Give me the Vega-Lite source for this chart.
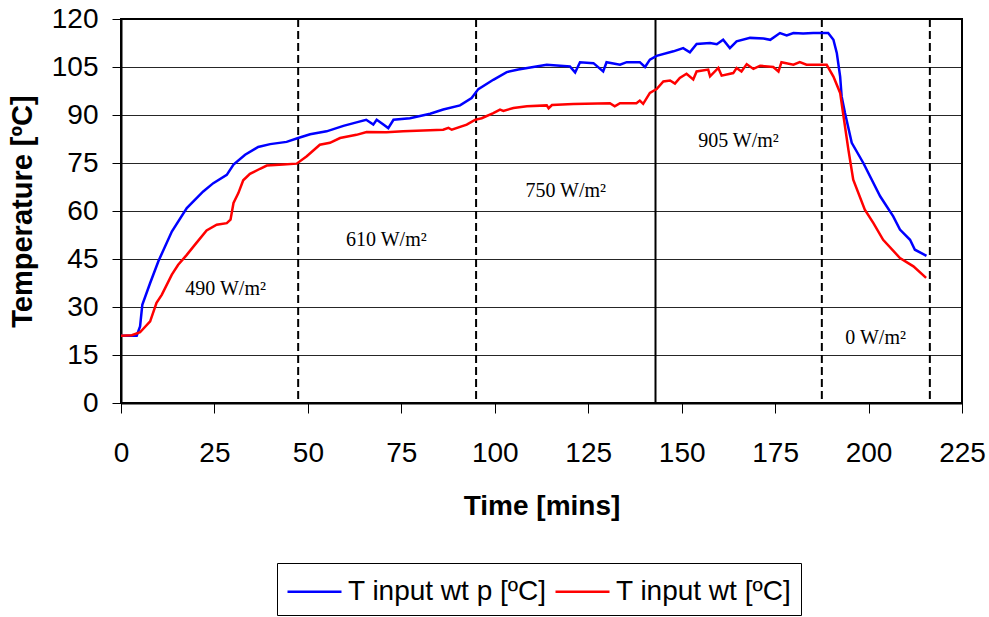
{
  "$schema": "https://vega.github.io/schema/vega-lite/v6.json",
  "width": 841,
  "height": 384,
  "autosize": {"type": "none"},
  "padding": {"left": 121, "top": 19, "right": 27, "bottom": 214},
  "background": "white",
  "config": {
    "view": {"stroke": "black", "strokeWidth": 2},
    "font": "Liberation Sans"
  },
  "datasets": {
    "lines": [
      {"s": "T input wt p [ºC]", "t": 0, "T": 21}, {"s": "T input wt p [ºC]", "t": 4.2, "T": 21}, {"s": "T input wt p [ºC]", "t": 5.1, "T": 23.9}, {"s": "T input wt p [ºC]", "t": 5.7, "T": 30.7}, {"s": "T input wt p [ºC]", "t": 7.8, "T": 37.5}, {"s": "T input wt p [ºC]", "t": 10, "T": 44.3}, {"s": "T input wt p [ºC]", "t": 13.6, "T": 53.6}, {"s": "T input wt p [ºC]", "t": 17.6, "T": 60.9}, {"s": "T input wt p [ºC]", "t": 22, "T": 66.1}, {"s": "T input wt p [ºC]", "t": 24.7, "T": 68.7}, {"s": "T input wt p [ºC]", "t": 28.3, "T": 71.3}, {"s": "T input wt p [ºC]", "t": 30.1, "T": 74.5}, {"s": "T input wt p [ºC]", "t": 33.2, "T": 77.6}, {"s": "T input wt p [ºC]", "t": 36.7, "T": 80}, {"s": "T input wt p [ºC]", "t": 39.9, "T": 80.9}, {"s": "T input wt p [ºC]", "t": 44.3, "T": 81.6}, {"s": "T input wt p [ºC]", "t": 47.4, "T": 82.8}, {"s": "T input wt p [ºC]", "t": 50.6, "T": 84}, {"s": "T input wt p [ºC]", "t": 55, "T": 84.9}, {"s": "T input wt p [ºC]", "t": 59.5, "T": 86.6}, {"s": "T input wt p [ºC]", "t": 63, "T": 87.7}, {"s": "T input wt p [ºC]", "t": 65.6, "T": 88.5}, {"s": "T input wt p [ºC]", "t": 67.5, "T": 87}, {"s": "T input wt p [ºC]", "t": 68.4, "T": 88.5}, {"s": "T input wt p [ºC]", "t": 70.2, "T": 87}, {"s": "T input wt p [ºC]", "t": 71.5, "T": 85.9}, {"s": "T input wt p [ºC]", "t": 72.9, "T": 88.5}, {"s": "T input wt p [ºC]", "t": 77.3, "T": 89}, {"s": "T input wt p [ºC]", "t": 82.7, "T": 90.4}, {"s": "T input wt p [ºC]", "t": 86.2, "T": 91.7}, {"s": "T input wt p [ºC]", "t": 90.7, "T": 93}, {"s": "T input wt p [ºC]", "t": 93.8, "T": 95.3}, {"s": "T input wt p [ºC]", "t": 95.6, "T": 98.1}, {"s": "T input wt p [ºC]", "t": 99.6, "T": 101}, {"s": "T input wt p [ºC]", "t": 103.2, "T": 103.4}, {"s": "T input wt p [ºC]", "t": 106.3, "T": 104.2}, {"s": "T input wt p [ºC]", "t": 110.3, "T": 105}, {"s": "T input wt p [ºC]", "t": 113.9, "T": 105.7}, {"s": "T input wt p [ºC]", "t": 117.5, "T": 105.4}, {"s": "T input wt p [ºC]", "t": 120.1, "T": 105.2}, {"s": "T input wt p [ºC]", "t": 121.5, "T": 103.3}, {"s": "T input wt p [ºC]", "t": 122.8, "T": 106.5}, {"s": "T input wt p [ºC]", "t": 126.4, "T": 106.2}, {"s": "T input wt p [ºC]", "t": 129, "T": 103.6}, {"s": "T input wt p [ºC]", "t": 129.9, "T": 106.5}, {"s": "T input wt p [ºC]", "t": 133.5, "T": 105.7}, {"s": "T input wt p [ºC]", "t": 135.3, "T": 106.5}, {"s": "T input wt p [ºC]", "t": 138.8, "T": 106.5}, {"s": "T input wt p [ºC]", "t": 140.2, "T": 105}, {"s": "T input wt p [ºC]", "t": 141.5, "T": 107.3}, {"s": "T input wt p [ºC]", "t": 143.3, "T": 108.5}, {"s": "T input wt p [ºC]", "t": 147.8, "T": 109.9}, {"s": "T input wt p [ºC]", "t": 150.4, "T": 110.9}, {"s": "T input wt p [ºC]", "t": 152.2, "T": 109.6}, {"s": "T input wt p [ºC]", "t": 154, "T": 112.2}, {"s": "T input wt p [ºC]", "t": 157.6, "T": 112.5}, {"s": "T input wt p [ºC]", "t": 159.4, "T": 112.1}, {"s": "T input wt p [ºC]", "t": 161.1, "T": 113.5}, {"s": "T input wt p [ºC]", "t": 162.9, "T": 110.9}, {"s": "T input wt p [ºC]", "t": 164.7, "T": 113}, {"s": "T input wt p [ºC]", "t": 168.3, "T": 114.1}, {"s": "T input wt p [ºC]", "t": 171.9, "T": 113.9}, {"s": "T input wt p [ºC]", "t": 173.7, "T": 113.5}, {"s": "T input wt p [ºC]", "t": 176.3, "T": 115.6}, {"s": "T input wt p [ºC]", "t": 178.1, "T": 114.9}, {"s": "T input wt p [ºC]", "t": 179.9, "T": 115.6}, {"s": "T input wt p [ºC]", "t": 182.5, "T": 115.5}, {"s": "T input wt p [ºC]", "t": 185.2, "T": 115.6}, {"s": "T input wt p [ºC]", "t": 189.2, "T": 115.6}, {"s": "T input wt p [ºC]", "t": 190.6, "T": 113.5}, {"s": "T input wt p [ºC]", "t": 191.5, "T": 109.4}, {"s": "T input wt p [ºC]", "t": 192.4, "T": 102}, {"s": "T input wt p [ºC]", "t": 192.8, "T": 95.8}, {"s": "T input wt p [ºC]", "t": 193.7, "T": 90.6}, {"s": "T input wt p [ºC]", "t": 195.5, "T": 81.3}, {"s": "T input wt p [ºC]", "t": 198.6, "T": 75}, {"s": "T input wt p [ºC]", "t": 203.1, "T": 64.6}, {"s": "T input wt p [ºC]", "t": 206.6, "T": 58.3}, {"s": "T input wt p [ºC]", "t": 208.4, "T": 54.2}, {"s": "T input wt p [ºC]", "t": 211.1, "T": 51}, {"s": "T input wt p [ºC]", "t": 212.4, "T": 47.9}, {"s": "T input wt p [ºC]", "t": 215.5, "T": 46},
      {"s": "T input wt [ºC]", "t": 0, "T": 21}, {"s": "T input wt [ºC]", "t": 2.9, "T": 21.2}, {"s": "T input wt [ºC]", "t": 5.1, "T": 22.1}, {"s": "T input wt [ºC]", "t": 7.8, "T": 25.5}, {"s": "T input wt [ºC]", "t": 9.5, "T": 31.3}, {"s": "T input wt [ºC]", "t": 10.9, "T": 33.8}, {"s": "T input wt [ºC]", "t": 13.6, "T": 40.1}, {"s": "T input wt [ºC]", "t": 15.3, "T": 43.2}, {"s": "T input wt [ºC]", "t": 17.6, "T": 46.3}, {"s": "T input wt [ºC]", "t": 19.8, "T": 49.5}, {"s": "T input wt [ºC]", "t": 22.9, "T": 53.9}, {"s": "T input wt [ºC]", "t": 25.6, "T": 55.7}, {"s": "T input wt [ºC]", "t": 28.3, "T": 56.2}, {"s": "T input wt [ºC]", "t": 29.3, "T": 57.3}, {"s": "T input wt [ºC]", "t": 30.1, "T": 62.5}, {"s": "T input wt [ºC]", "t": 31.4, "T": 65.6}, {"s": "T input wt [ºC]", "t": 32.7, "T": 69.6}, {"s": "T input wt [ºC]", "t": 34.5, "T": 71.6}, {"s": "T input wt [ºC]", "t": 37.2, "T": 73.2}, {"s": "T input wt [ºC]", "t": 39, "T": 74.2}, {"s": "T input wt [ºC]", "t": 43.4, "T": 74.5}, {"s": "T input wt [ºC]", "t": 47, "T": 74.8}, {"s": "T input wt [ºC]", "t": 49.7, "T": 77.1}, {"s": "T input wt [ºC]", "t": 53.2, "T": 80.7}, {"s": "T input wt [ºC]", "t": 55.9, "T": 81.3}, {"s": "T input wt [ºC]", "t": 58.6, "T": 82.8}, {"s": "T input wt [ºC]", "t": 63, "T": 83.8}, {"s": "T input wt [ºC]", "t": 65.7, "T": 84.7}, {"s": "T input wt [ºC]", "t": 71, "T": 84.6}, {"s": "T input wt [ºC]", "t": 75.5, "T": 84.9}, {"s": "T input wt [ºC]", "t": 86.2, "T": 85.4}, {"s": "T input wt [ºC]", "t": 87.6, "T": 86}, {"s": "T input wt [ºC]", "t": 88.5, "T": 85.4}, {"s": "T input wt [ºC]", "t": 92.5, "T": 87}, {"s": "T input wt [ºC]", "t": 94.7, "T": 88.5}, {"s": "T input wt [ºC]", "t": 96.5, "T": 89}, {"s": "T input wt [ºC]", "t": 99.6, "T": 90.6}, {"s": "T input wt [ºC]", "t": 101.4, "T": 91.7}, {"s": "T input wt [ºC]", "t": 102.3, "T": 91.3}, {"s": "T input wt [ºC]", "t": 105, "T": 92.2}, {"s": "T input wt [ºC]", "t": 108.6, "T": 92.7}, {"s": "T input wt [ºC]", "t": 113.9, "T": 93}, {"s": "T input wt [ºC]", "t": 114.4, "T": 92.1}, {"s": "T input wt [ºC]", "t": 115.3, "T": 93.1}, {"s": "T input wt [ºC]", "t": 121, "T": 93.4}, {"s": "T input wt [ºC]", "t": 130.8, "T": 93.7}, {"s": "T input wt [ºC]", "t": 132.1, "T": 92.7}, {"s": "T input wt [ºC]", "t": 133.5, "T": 93.7}, {"s": "T input wt [ºC]", "t": 137.9, "T": 93.7}, {"s": "T input wt [ºC]", "t": 138.8, "T": 94.5}, {"s": "T input wt [ºC]", "t": 139.7, "T": 93.5}, {"s": "T input wt [ºC]", "t": 141.5, "T": 96.9}, {"s": "T input wt [ºC]", "t": 143.3, "T": 98.1}, {"s": "T input wt [ºC]", "t": 145.1, "T": 100.5}, {"s": "T input wt [ºC]", "t": 146.9, "T": 100.8}, {"s": "T input wt [ºC]", "t": 148.2, "T": 99.8}, {"s": "T input wt [ºC]", "t": 149.5, "T": 101.6}, {"s": "T input wt [ºC]", "t": 151.3, "T": 102.9}, {"s": "T input wt [ºC]", "t": 153.1, "T": 101.1}, {"s": "T input wt [ºC]", "t": 154, "T": 103.6}, {"s": "T input wt [ºC]", "t": 157.1, "T": 104.2}, {"s": "T input wt [ºC]", "t": 157.6, "T": 102.1}, {"s": "T input wt [ºC]", "t": 159.8, "T": 104.7}, {"s": "T input wt [ºC]", "t": 160.7, "T": 102.3}, {"s": "T input wt [ºC]", "t": 163.8, "T": 103.1}, {"s": "T input wt [ºC]", "t": 164.7, "T": 104.7}, {"s": "T input wt [ºC]", "t": 166, "T": 103.6}, {"s": "T input wt [ºC]", "t": 167.4, "T": 105.9}, {"s": "T input wt [ºC]", "t": 169.2, "T": 104.4}, {"s": "T input wt [ºC]", "t": 171, "T": 105.4}, {"s": "T input wt [ºC]", "t": 174.5, "T": 105}, {"s": "T input wt [ºC]", "t": 175.9, "T": 103.6}, {"s": "T input wt [ºC]", "t": 176.7, "T": 106.5}, {"s": "T input wt [ºC]", "t": 179.9, "T": 105.7}, {"s": "T input wt [ºC]", "t": 181.6, "T": 106.5}, {"s": "T input wt [ºC]", "t": 183.4, "T": 105.7}, {"s": "T input wt [ºC]", "t": 188.8, "T": 105.7}, {"s": "T input wt [ºC]", "t": 190.6, "T": 102}, {"s": "T input wt [ºC]", "t": 192.4, "T": 96.9}, {"s": "T input wt [ºC]", "t": 193.3, "T": 89.6}, {"s": "T input wt [ºC]", "t": 194.6, "T": 79.2}, {"s": "T input wt [ºC]", "t": 195.9, "T": 69.8}, {"s": "T input wt [ºC]", "t": 199, "T": 60.4}, {"s": "T input wt [ºC]", "t": 201.3, "T": 56.2}, {"s": "T input wt [ºC]", "t": 203.9, "T": 51}, {"s": "T input wt [ºC]", "t": 208.4, "T": 45.3}, {"s": "T input wt [ºC]", "t": 212, "T": 42.7}, {"s": "T input wt [ºC]", "t": 215.4, "T": 39.1}
    ],
    "dashedV": [{"x": 0}, {"x": 47.4}, {"x": 95}, {"x": 187.5}, {"x": 216.4}],
    "solidV": [{"x": 143}],
    "dashedH": [{"y": 0, "x": 0, "x2": 216.4}, {"y": 120, "x": 0, "x2": 216.4}],
    "labels": [
      {"t": 28, "T": 35.7, "label": "490 W/m²"},
      {"t": 71, "T": 50.8, "label": "610 W/m²"},
      {"t": 119, "T": 66.3, "label": "750 W/m²"},
      {"t": 165.2, "T": 82, "label": "905 W/m²"},
      {"t": 201.9, "T": 20.4, "label": "0 W/m²"}
    ]
  },
  "layer": [
    {
      "data": {"name": "dashedV"},
      "mark": {"type": "rule", "color": "black", "strokeWidth": 2, "strokeDash": [8, 4]},
      "encoding": {
        "x": {"field": "x", "type": "quantitative", "scale": {"domain": [0, 225], "nice": false},
          "axis": {"values": [0, 25, 50, 75, 100, 125, 150, 175, 200, 225], "title": "Time [mins]", "grid": false,
            "tickSize": 10, "tickColor": "black", "domainColor": "black", "domainWidth": 2,
            "labelFont": "Liberation Sans", "labelFontSize": 28, "labelColor": "black", "labelPadding": 26,
            "labelFlush": false, "labelOverlap": false,
            "titleFont": "Liberation Sans", "titleFontSize": 28, "titleFontWeight": "bold", "titleColor": "black", "titlePadding": 25}}
      }
    },
    {
      "data": {"name": "solidV"},
      "mark": {"type": "rule", "color": "black", "strokeWidth": 2},
      "encoding": {"x": {"field": "x", "type": "quantitative"}}
    },
    {
      "data": {"name": "dashedH"},
      "mark": {"type": "rule", "color": "black", "strokeWidth": 2, "strokeDash": [8, 4]},
      "encoding": {
        "x": {"field": "x", "type": "quantitative"},
        "x2": {"field": "x2"},
        "y": {"field": "y", "type": "quantitative", "scale": {"domain": [0, 120], "nice": false},
          "axis": {"values": [0, 15, 30, 45, 60, 75, 90, 105, 120], "title": "Temperature [ºC]", "grid": true,
            "gridColor": "black", "gridWidth": 1, "gridOpacity": 0.85,
            "tickSize": 9, "tickColor": "black", "domainColor": "black", "domainWidth": 2,
            "labelFont": "Liberation Sans", "labelFontSize": 28, "labelColor": "black", "labelPadding": 14,
            "labelFlush": false, "labelOverlap": false,
            "titleFont": "Liberation Sans", "titleFontSize": 29, "titleFontWeight": "bold", "titleColor": "black", "titlePadding": 14}}
      }
    },
    {
      "data": {"name": "lines"},
      "mark": {"type": "line", "strokeWidth": 2.5},
      "encoding": {
        "x": {"field": "t", "type": "quantitative"},
        "y": {"field": "T", "type": "quantitative"},
        "color": {"field": "s", "type": "nominal",
          "scale": {"domain": ["T input wt p [ºC]", "T input wt [ºC]"], "range": ["#0000ff", "#ff0000"]},
          "legend": {"title": null, "orient": "none", "legendX": 156, "legendY": 544, "direction": "horizontal",
            "strokeColor": "black", "fillColor": "white", "padding": 9, "cornerRadius": 0,
            "symbolType": "M-1,0H2", "symbolSize": 1296, "symbolStrokeWidth": 2.5,
            "labelFont": "Liberation Sans", "labelFontSize": 28, "labelColor": "black", "labelOffset": 23,
            "columnPadding": 3, "labelLimit": 400}}
      }
    },
    {
      "data": {"name": "labels"},
      "mark": {"type": "text", "font": "Liberation Serif", "fontSize": 20, "color": "black", "align": "center", "baseline": "middle"},
      "encoding": {
        "x": {"field": "t", "type": "quantitative"},
        "y": {"field": "T", "type": "quantitative"},
        "text": {"field": "label"}
      }
    }
  ]
}
